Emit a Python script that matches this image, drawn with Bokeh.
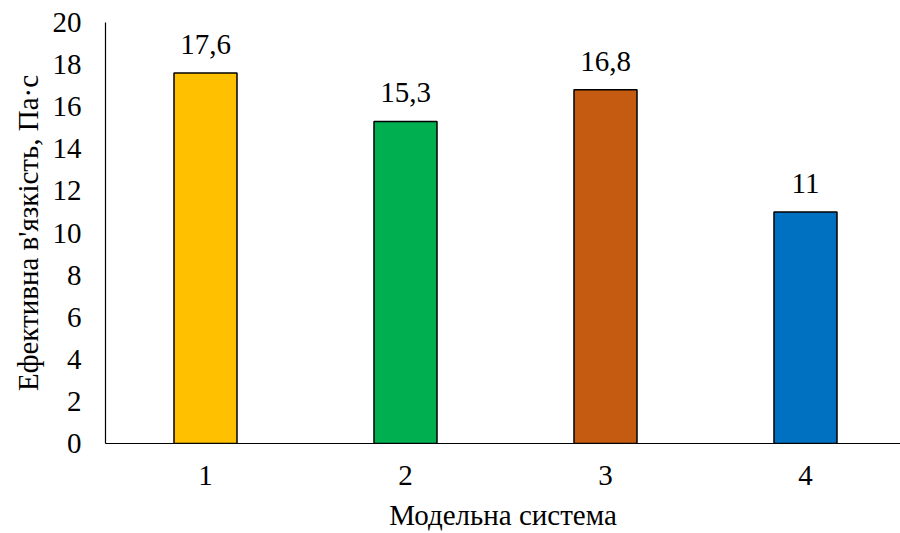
from bokeh.plotting import figure
from bokeh.models import ColumnDataSource, LabelSet, Range1d, FixedTicker
from bokeh.embed import file_html
from bokeh.resources import INLINE

categories = ["1", "2", "3", "4"]
values = [17.6, 15.3, 16.8, 11.0]
value_labels = ["17,6", "15,3", "16,8", "11"]
colors = ["#FFC000", "#00B050", "#C55A11", "#0070C0"]
y_ticks = [0, 2, 4, 6, 8, 10, 12, 14, 16, 18, 20]

FONT = "Times New Roman"
FS = "29px"

xs = [i + 1 for i in range(len(categories))]
src = ColumnDataSource(dict(x=xs, top=values, lab=value_labels, color=colors))

p = figure(width=900, height=533, output_backend="svg", toolbar_location=None,
           x_range=Range1d(0.5, 4.475), y_range=Range1d(0, 20),
           min_border_left=105, min_border_right=0, min_border_top=22, min_border_bottom=90)
p.outline_line_color = None
p.grid.grid_line_color = None
p.background_fill_color = "white"
p.border_fill_color = "white"

p.vbar(x="x", top="top", width=0.315, bottom=0, source=src,
       fill_color="color", line_color="black", line_width=1.5)

labels = LabelSet(x="x", y="top", text="lab", source=src, text_align="center",
                  text_baseline="alphabetic", y_offset=19, text_font=FONT,
                  text_font_size=FS, text_color="black")
p.add_layout(labels)

p.xaxis.ticker = FixedTicker(ticks=xs)
p.xaxis.major_label_overrides = {x: c for x, c in zip(xs, categories)}
p.yaxis.ticker = FixedTicker(ticks=y_ticks)

for ax in (p.xaxis, p.yaxis):
    ax.major_tick_in = 0
    ax.major_tick_out = 0
    ax.minor_tick_in = 0
    ax.minor_tick_out = 0
    ax.axis_line_color = "black"
    ax.axis_line_width = 1.2
    ax.major_label_text_font = FONT
    ax.major_label_text_font_size = FS
    ax.major_label_text_color = "black"
    ax.axis_label_text_font = FONT
    ax.axis_label_text_font_size = FS
    ax.axis_label_text_font_style = "normal"
    ax.axis_label_text_color = "black"

p.xaxis.axis_label = "Модельна система"
p.yaxis.axis_label = "Ефективна в'язкість, Па·с"
p.xaxis.major_label_standoff = 22
p.xaxis.axis_label_standoff = 11
p.yaxis.major_label_standoff = 24
p.yaxis.axis_label_standoff = 6

open("out.html", "w").write(file_html(p, INLINE))
